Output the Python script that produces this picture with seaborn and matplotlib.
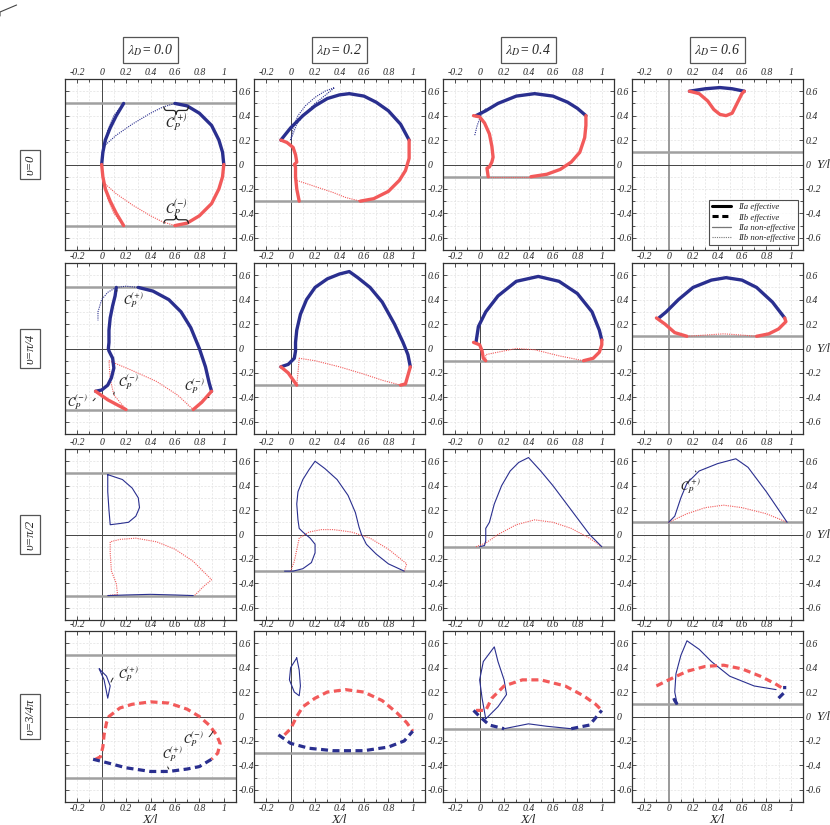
import numpy as np
import pandas as pd
import matplotlib
matplotlib.use("Agg")
import matplotlib.pyplot as plt
import seaborn as sns
from matplotlib.lines import Line2D
from matplotlib.path import Path
from matplotlib.patches import PathPatch
from matplotlib.ticker import MultipleLocator, FuncFormatter

"""
Effective / non-effective regions of C_P for four lambda_D and four upsilon values
"""

# ---------------------------------------------------------------- data
lambdas = ["0.0", "0.2", "0.4", "0.6"]
upsilons = ["0", "\u03c0/4", "\u03c0/2", "3/4\u03c0"]
gray_levels = [[0.5, -0.5], [-0.3], [-0.1], [0.1]]

# row 1 : upsilon = 0
r1c1_blue_eff = [[(0, 0), (0.01, 0.1), (0.03, 0.2), (0.07, 0.3), (0.12, 0.4), (0.18, 0.5)],
                 [(0.6, 0.5), (0.7, 0.48), (0.8, 0.42), (0.9, 0.32), (0.96, 0.2), (0.99, 0.1), (1.0, 0.0)]]
r1c1_blue_dot = [[(0.18, 0.5), (0.1, 0.4), (0.05, 0.28), (0.03, 0.16), (0.12, 0.24), (0.25, 0.33),
                  (0.4, 0.42), (0.5, 0.47), (0.6, 0.5)]]
r1c1_red_eff = [[(0, 0), (0.01, -0.1), (0.03, -0.2), (0.07, -0.3), (0.12, -0.4), (0.18, -0.5)],
                [(0.6, -0.5), (0.7, -0.48), (0.8, -0.42), (0.9, -0.32), (0.96, -0.2), (0.99, -0.1), (1.0, 0.0)]]
r1c1_red_dot = [[(0.18, -0.5), (0.1, -0.4), (0.05, -0.28), (0.03, -0.16), (0.12, -0.24), (0.25, -0.33),
                 (0.4, -0.42), (0.5, -0.47), (0.6, -0.5)]]

r1c2_blue_eff = [[(-0.08, 0.2), (0.0, 0.3), (0.1, 0.4), (0.2, 0.48), (0.3, 0.54), (0.4, 0.57), (0.48, 0.58),
                  (0.6, 0.56), (0.7, 0.51), (0.8, 0.44), (0.9, 0.33), (0.97, 0.2)]]
r1c2_blue_dot = [[(0.0, 0.2), (0.02, 0.3), (0.06, 0.4), (0.12, 0.48), (0.2, 0.55), (0.28, 0.6), (0.36, 0.63),
                  (0.3, 0.58), (0.2, 0.5), (0.12, 0.42), (0.05, 0.33), (0.0, 0.2)]]
r1c2_red_eff = [[(-0.08, 0.2), (-0.03, 0.18), (0.02, 0.14), (0.04, 0.08), (0.05, 0.02), (0.03, 0.0),
                 (0.04, -0.02), (0.04, -0.1), (0.05, -0.2), (0.07, -0.3)],
                [(0.57, -0.3), (0.68, -0.28), (0.8, -0.22), (0.89, -0.13), (0.94, -0.05), (0.97, 0.05), (0.97, 0.2)]]
r1c2_red_dot = [[(0.05, -0.13), (0.2, -0.18), (0.35, -0.23), (0.45, -0.27), (0.57, -0.3)]]

r1c3_blue_eff = [[(-0.03, 0.4), (0.05, 0.44), (0.15, 0.5), (0.3, 0.56), (0.45, 0.58), (0.6, 0.56),
                  (0.72, 0.51), (0.8, 0.46), (0.87, 0.4)]]
r1c3_blue_dot = [[(-0.04, 0.24), (-0.02, 0.32), (0.01, 0.4), (0.05, 0.46)]]
r1c3_red_eff = [[(-0.05, 0.4), (0.0, 0.39), (0.04, 0.34), (0.08, 0.25), (0.1, 0.15), (0.11, 0.06),
                 (0.1, 0.02), (0.08, -0.02), (0.06, -0.03), (0.07, -0.1)],
                [(0.42, -0.1), (0.55, -0.08), (0.66, -0.04), (0.75, 0.02), (0.82, 0.1), (0.86, 0.22),
                 (0.87, 0.32), (0.87, 0.4)]]
r1c3_red_dot = [[(0.07, -0.1), (0.42, -0.1)]]

r1c4_blue_eff = [[(0.17, 0.6), (0.3, 0.62), (0.42, 0.63), (0.52, 0.62), (0.62, 0.6)]]
r1c4_red_eff = [[(0.17, 0.6), (0.25, 0.58), (0.32, 0.52), (0.37, 0.45), (0.42, 0.41), (0.47, 0.4),
                 (0.52, 0.42), (0.56, 0.5), (0.6, 0.58), (0.62, 0.6)]]

# row 2 : upsilon = pi/4
r2c1_blue_eff = [[(-0.05, -0.35), (0.0, -0.34), (0.05, -0.3), (0.08, -0.24), (0.1, -0.16), (0.09, -0.08),
                  (0.06, -0.02), (0.055, 0.0), (0.06, 0.05), (0.06, 0.15), (0.07, 0.25), (0.09, 0.35),
                  (0.11, 0.43), (0.12, 0.5)],
                 [(0.3, 0.5), (0.42, 0.47), (0.55, 0.4), (0.65, 0.3), (0.73, 0.17), (0.8, 0.0),
                  (0.85, -0.15), (0.88, -0.28), (0.9, -0.35)]]
r2c1_blue_dot = [[(0.12, 0.5), (0.05, 0.46), (0.0, 0.4), (-0.03, 0.3), (-0.03, 0.23)],
                 [(0.12, 0.5), (0.2, 0.51), (0.3, 0.5)]]
r2c1_red_eff = [[(-0.05, -0.35), (0.05, -0.42), (0.2, -0.5)],
                [(0.75, -0.5), (0.82, -0.44), (0.9, -0.35)]]
r2c1_red_dot = [[(0.2, -0.5), (0.1, -0.38), (0.07, -0.25), (0.06, -0.1)],
                [(0.06, -0.1), (0.25, -0.18), (0.45, -0.27), (0.62, -0.38), (0.75, -0.5)]]

r2c2_blue_eff = [[(-0.08, -0.15), (-0.02, -0.13), (0.03, -0.08), (0.04, -0.02), (0.04, 0.05), (0.05, 0.15),
                  (0.08, 0.28), (0.13, 0.4), (0.2, 0.5), (0.3, 0.57), (0.4, 0.61), (0.48, 0.63), (0.55, 0.58),
                  (0.65, 0.5), (0.75, 0.38), (0.85, 0.2), (0.92, 0.05), (0.96, -0.05), (0.98, -0.15)]]
r2c2_red_eff = [[(-0.08, -0.15), (-0.02, -0.2), (0.05, -0.3)],
                [(0.9, -0.3), (0.94, -0.29), (0.98, -0.15)]]
r2c2_red_dot = [[(0.05, -0.3), (0.06, -0.2), (0.07, -0.08), (0.2, -0.1), (0.4, -0.15), (0.6, -0.21),
                 (0.75, -0.26), (0.9, -0.3)]]

r2c3_blue_eff = [[(-0.03, 0.05), (-0.01, 0.18), (0.05, 0.3), (0.15, 0.43), (0.3, 0.55), (0.48, 0.59),
                  (0.65, 0.55), (0.8, 0.45), (0.92, 0.3), (0.98, 0.15), (1.0, 0.07)]]
r2c3_red_eff = [[(-0.05, 0.05), (0.0, 0.03), (0.02, -0.02), (0.03, -0.08), (0.05, -0.1)],
                [(0.85, -0.1), (0.93, -0.08), (0.98, -0.03), (1.0, 0.03), (1.0, 0.07)]]
r2c3_red_dot = [[(0.05, -0.1), (0.05, -0.05), (0.15, -0.03), (0.3, 0.0), (0.45, -0.01), (0.65, -0.06),
                 (0.85, -0.1)]]

r2c4_blue_eff = [[(-0.08, 0.25), (-0.02, 0.3), (0.08, 0.4), (0.2, 0.5), (0.35, 0.56), (0.47, 0.58),
                  (0.6, 0.56), (0.72, 0.5), (0.85, 0.38), (0.95, 0.25)]]
r2c4_red_eff = [[(-0.1, 0.25), (-0.03, 0.2), (0.05, 0.13), (0.15, 0.1)],
                [(0.72, 0.1), (0.82, 0.12), (0.9, 0.16), (0.96, 0.22), (0.95, 0.25)]]
r2c4_red_dot = [[(0.15, 0.1), (0.3, 0.11), (0.45, 0.12), (0.6, 0.11), (0.72, 0.1)]]

# row 3 : upsilon = pi/2
r3c1_blue_thin = [[(0.05, 0.49), (0.05, 0.35), (0.06, 0.2), (0.07, 0.08), (0.15, 0.09), (0.22, 0.1),
                   (0.28, 0.15), (0.31, 0.22), (0.3, 0.3), (0.25, 0.38), (0.17, 0.45), (0.05, 0.49)],
                  [(0.05, -0.5), (0.2, -0.495), (0.4, -0.49), (0.6, -0.495), (0.75, -0.5)]]
r3c1_red_dot = [[(0.05, -0.5), (0.13, -0.49), (0.12, -0.4), (0.08, -0.3), (0.07, -0.15), (0.07, -0.06),
                 (0.15, -0.04), (0.28, -0.03), (0.45, -0.06), (0.6, -0.12), (0.75, -0.22), (0.9, -0.37),
                 (0.83, -0.43), (0.76, -0.5)]]

r3c2_blue_thin = [[(-0.05, -0.3), (0.02, -0.3), (0.1, -0.28), (0.17, -0.23), (0.2, -0.15), (0.2, -0.08),
                   (0.16, -0.03), (0.1, 0.02), (0.07, 0.05), (0.06, 0.12), (0.05, 0.25), (0.06, 0.35),
                   (0.1, 0.45), (0.15, 0.53), (0.2, 0.6), (0.28, 0.54), (0.38, 0.45), (0.47, 0.32),
                   (0.53, 0.18), (0.56, 0.06), (0.58, 0.0), (0.62, -0.08), (0.7, -0.16), (0.8, -0.24),
                   (0.93, -0.3)]]
r3c2_red_dot = [[(0.0, -0.3), (0.03, -0.22), (0.07, -0.03), (0.15, 0.02), (0.25, 0.04), (0.35, 0.04),
                 (0.5, 0.02), (0.65, -0.03), (0.8, -0.12), (0.9, -0.2), (0.95, -0.24), (0.93, -0.3)]]

r3c3_blue_thin = [[(0.0, -0.1), (0.04, -0.09), (0.05, -0.05), (0.05, 0.05), (0.08, 0.1), (0.12, 0.25),
                   (0.18, 0.4), (0.25, 0.52), (0.32, 0.59), (0.4, 0.63), (0.5, 0.52), (0.6, 0.4),
                   (0.75, 0.2), (0.9, 0.0), (1.0, -0.1)]]
r3c3_red_dot = [[(-0.03, -0.1), (0.05, -0.07), (0.15, 0.0), (0.3, 0.08), (0.45, 0.12), (0.6, 0.1),
                 (0.75, 0.05), (0.9, -0.03), (1.0, -0.1)]]

r3c4_blue_thin = [[(0.0, 0.1), (0.05, 0.15), (0.1, 0.3), (0.15, 0.42), (0.25, 0.52), (0.4, 0.58),
                   (0.55, 0.62), (0.65, 0.55), (0.8, 0.35), (0.97, 0.1)]]
r3c4_red_dot = [[(0.0, 0.1), (0.15, 0.17), (0.3, 0.22), (0.45, 0.24), (0.6, 0.22), (0.8, 0.17), (0.97, 0.1)]]

# row 4 : upsilon = 3/4 pi
r4c1_blue_thin = [[(-0.02, 0.39), (0.02, 0.3), (0.05, 0.15), (0.07, 0.25), (0.04, 0.33), (-0.02, 0.39)]]
r4c1_red_dash = [[(-0.05, -0.35), (-0.01, -0.33), (0.01, -0.25), (0.02, -0.15), (0.04, -0.05), (0.06, 0.0),
                  (0.15, 0.07), (0.25, 0.1), (0.4, 0.12), (0.55, 0.11), (0.7, 0.06), (0.8, 0.0),
                  (0.88, -0.07), (0.94, -0.15), (0.97, -0.22), (0.95, -0.3), (0.9, -0.35)]]
r4c1_blue_dash = [[(-0.07, -0.35), (0.05, -0.38), (0.2, -0.42), (0.4, -0.45), (0.55, -0.45), (0.7, -0.43),
                   (0.8, -0.41), (0.9, -0.35)]]

r4c2_blue_thin = [[(0.05, 0.48), (0.0, 0.4), (-0.01, 0.3), (0.03, 0.2), (0.07, 0.17), (0.08, 0.25),
                   (0.07, 0.38), (0.05, 0.48)]]
r4c2_red_dash = [[(-0.05, -0.15), (0.0, -0.1), (0.05, 0.0), (0.1, 0.08), (0.2, 0.15), (0.3, 0.2),
                  (0.45, 0.22), (0.6, 0.2), (0.75, 0.13), (0.87, 0.03), (0.95, -0.05), (1.0, -0.12)]]
r4c2_blue_dash = [[(-0.1, -0.15), (0.0, -0.22), (0.15, -0.26), (0.35, -0.28), (0.6, -0.28), (0.8, -0.25),
                   (0.93, -0.2), (1.0, -0.12)]]

r4c3_blue_thin = [[(0.05, -0.02), (0.02, 0.15), (0.0, 0.3), (0.03, 0.45), (0.12, 0.57), (0.15, 0.45),
                   (0.2, 0.3), (0.22, 0.18), (0.15, 0.08), (0.05, -0.02)],
                  [(0.2, -0.1), (0.4, -0.06), (0.55, -0.08), (0.75, -0.1)]]
r4c3_red_dash = [[(-0.03, 0.05), (0.05, 0.05), (0.1, 0.15), (0.2, 0.25), (0.35, 0.3), (0.5, 0.3),
                  (0.7, 0.25), (0.85, 0.17), (0.95, 0.1), (1.0, 0.05)]]
r4c3_blue_dash = [[(-0.05, 0.05), (0.0, 0.0), (0.08, -0.07), (0.2, -0.1)],
                  [(0.75, -0.1), (0.9, -0.07), (1.0, 0.05)]]

r4c4_blue_thin = [[(0.07, 0.1), (0.05, 0.2), (0.06, 0.35), (0.1, 0.5), (0.15, 0.62), (0.25, 0.55),
                   (0.35, 0.45), (0.5, 0.33), (0.7, 0.25), (0.88, 0.22)]]
r4c4_red_dash = [[(-0.1, 0.25), (0.0, 0.3), (0.15, 0.37), (0.3, 0.41), (0.45, 0.42), (0.6, 0.39),
                  (0.75, 0.33), (0.87, 0.27), (0.95, 0.22)]]
r4c4_blue_dash = [[(0.07, 0.1), (0.05, 0.13), (0.03, 0.18)],
                  [(0.9, 0.15), (0.95, 0.2), (0.95, 0.25)]]

BLUE = "#2a2f8f"
RED = "#f25a5a"

# style name -> (linewidth, linestyle)
styles = {"eff": (2.4, "-"), "dash": (2.3, (0, (2.2, 1.4))), "thin": (0.8, "-"), "dot": (0.8, (0, (1, 1)))}

panels = {
    (0, 0): [(r1c1_blue_eff, BLUE, "eff"), (r1c1_blue_dot, BLUE, "dot"), (r1c1_red_eff, RED, "eff"), (r1c1_red_dot, RED, "dot")],
    (0, 1): [(r1c2_blue_eff, BLUE, "eff"), (r1c2_blue_dot, BLUE, "dot"), (r1c2_red_eff, RED, "eff"), (r1c2_red_dot, RED, "dot")],
    (0, 2): [(r1c3_blue_eff, BLUE, "eff"), (r1c3_blue_dot, BLUE, "dot"), (r1c3_red_eff, RED, "eff"), (r1c3_red_dot, RED, "dot")],
    (0, 3): [(r1c4_blue_eff, BLUE, "eff"), (r1c4_red_eff, RED, "eff")],
    (1, 0): [(r2c1_blue_dot, BLUE, "dot"), (r2c1_red_dot, RED, "dot"), (r2c1_blue_eff, BLUE, "eff"), (r2c1_red_eff, RED, "eff")],
    (1, 1): [(r2c2_red_dot, RED, "dot"), (r2c2_blue_eff, BLUE, "eff"), (r2c2_red_eff, RED, "eff")],
    (1, 2): [(r2c3_red_dot, RED, "dot"), (r2c3_blue_eff, BLUE, "eff"), (r2c3_red_eff, RED, "eff")],
    (1, 3): [(r2c4_red_dot, RED, "dot"), (r2c4_blue_eff, BLUE, "eff"), (r2c4_red_eff, RED, "eff")],
    (2, 0): [(r3c1_red_dot, RED, "dot"), (r3c1_blue_thin, BLUE, "thin")],
    (2, 1): [(r3c2_red_dot, RED, "dot"), (r3c2_blue_thin, BLUE, "thin")],
    (2, 2): [(r3c3_red_dot, RED, "dot"), (r3c3_blue_thin, BLUE, "thin")],
    (2, 3): [(r3c4_red_dot, RED, "dot"), (r3c4_blue_thin, BLUE, "thin")],
    (3, 0): [(r4c1_blue_thin, BLUE, "thin"), (r4c1_red_dash, RED, "dash"), (r4c1_blue_dash, BLUE, "dash")],
    (3, 1): [(r4c2_blue_thin, BLUE, "thin"), (r4c2_red_dash, RED, "dash"), (r4c2_blue_dash, BLUE, "dash")],
    (3, 2): [(r4c3_blue_thin, BLUE, "thin"), (r4c3_red_dash, RED, "dash"), (r4c3_blue_dash, BLUE, "dash")],
    (3, 3): [(r4c4_blue_thin, BLUE, "thin"), (r4c4_red_dash, RED, "dash"), (r4c4_blue_dash, BLUE, "dash")],
}

CP = {"+": r"$\mathcal{C}_P^{(+)}$", "-": r"$\mathcal{C}_P^{(-)}$"}


def brace(ax, x0, x1, y_end, y_tip):
    """Draw a horizontal curly brace from x0 to x1, ends at y_end, tip at y_tip."""
    xm = (x0 + x1) / 2
    ym = (y_end + y_tip) / 2
    q = (x1 - x0) * 0.12
    verts = [(x0, y_end), (x0, ym), (x0 + q, ym),
             (xm - q, ym),
             (xm, ym), (xm, y_tip),
             (xm, ym), (xm + q, ym),
             (x1 - q, ym),
             (x1, ym), (x1, y_end)]
    codes = [Path.MOVETO, Path.CURVE3, Path.CURVE3,
             Path.LINETO,
             Path.CURVE3, Path.CURVE3,
             Path.CURVE3, Path.CURVE3,
             Path.LINETO,
             Path.CURVE3, Path.CURVE3]
    ax.add_patch(PathPatch(Path(verts, codes), fc="none", ec="#222222", lw=0.9, zorder=4))


# ---------------------------------------------------------------- figure
sns.set_style("ticks")
plt.rcParams["font.family"] = ["Liberation Serif", "DejaVu Serif"]
plt.rcParams["font.style"] = "italic"
plt.rcParams["mathtext.fontset"] = "stix"
plt.rcParams["axes.unicode_minus"] = False

W, H = 830, 825
fig = plt.figure(figsize=(W / 100, H / 100), dpi=100)

left_px = [65, 254, 443, 632]
top_px = [79, 263, 449, 631]
size_px = 171

fmt = FuncFormatter(lambda v, p: "%g" % round(v, 2))

axes = {}
for r in range(4):
    for c in range(4):
        ax = fig.add_axes([left_px[c] / W, 1 - (top_px[r] + size_px) / H, size_px / W, size_px / H])
        axes[(r, c)] = ax

        # reference axes and threshold lines
        if c == 3:
            ax.axvline(0, color="#9a9a9a", lw=1.4, zorder=1)
        else:
            ax.axvline(0, color="#444444", lw=0.7, zorder=1)
        ax.axhline(0, color="#444444", lw=0.7, zorder=1)
        for g in gray_levels[c]:
            ax.axhline(g, color="#a0a0a0", lw=1.8, zorder=1)

        for segs, col, st in panels[(r, c)]:
            lw, ls = styles[st]
            for seg in segs:
                df = pd.DataFrame(seg, columns=["X", "Y"])
                sns.lineplot(data=df, x="X", y="Y", sort=False, estimator=None, ax=ax,
                             color=col, lw=lw, linestyle=ls, zorder=3)
        ax.set_xlabel("")
        ax.set_ylabel("")

        ax.set_xlim(-0.3, 1.1)
        ax.set_ylim(-0.7, 0.7)
        ax.set_xticks(np.arange(-0.2, 1.01, 0.2))
        ax.set_yticks(np.arange(-0.6, 0.61, 0.2))
        ax.xaxis.set_minor_locator(MultipleLocator(0.1))
        ax.yaxis.set_minor_locator(MultipleLocator(0.1))
        ax.xaxis.set_major_formatter(fmt)
        ax.yaxis.set_major_formatter(fmt)
        ax.tick_params(which="both", direction="in", top=True, right=True, bottom=True, left=True,
                       labeltop=True, labelbottom=(r == 3), labelleft=False, labelright=True,
                       labelsize=7, length=3, width=0.6, pad=2, color="#333333")
        ax.tick_params(axis="x", which="major", pad=1.5)
        ax.tick_params(which="minor", length=2)
        for lab in ax.get_xticklabels() + ax.get_yticklabels():
            lab.set_fontstyle("italic")
        ax.grid(which="both", color="#e2e2e2", ls=(0, (3, 2)), lw=0.5)
        for sp in ax.spines.values():
            sp.set_color("#333333")
            sp.set_linewidth(0.9)

    # row labels
    fig.text(30 / W, 1 - (top_px[r] + size_px / 2) / H, "\u03c5=" + upsilons[r], rotation=90,
             ha="center", va="center", fontsize=9,
             bbox=dict(boxstyle="square,pad=0.35", fc="white", ec="#555555", lw=0.9))

# column titles and X/l labels
for c in range(4):
    xc = (left_px[c] + size_px / 2) / W
    fig.text(xc, 1 - 50 / H, r"$\lambda_D$= " + lambdas[c],
             ha="center", va="center", fontsize=10,
             bbox=dict(boxstyle="square,pad=0.35", fc="white", ec="#555555", lw=0.9))
    fig.text(xc, 1 - 820 / H, "X/l", ha="center", va="center", fontsize=9.5)

# Y/l labels on the right column
for r in range(4):
    axes[(r, 3)].text(1.08, 0.0, "Y/l", transform=axes[(r, 3)].get_yaxis_transform(),
                      fontsize=9, ha="left", va="center")

# annotations
a = axes[(0, 0)]
brace(a, 0.51, 0.71, 0.475, 0.41)
a.text(0.61, 0.34, CP["+"], fontsize=10, ha="center", va="center")
brace(a, 0.51, 0.71, -0.485, -0.42)
a.text(0.61, -0.36, CP["-"], fontsize=10, ha="center", va="center")

line_kw = dict(arrowstyle="-", lw=0.7, color="#222222", connectionstyle="arc3,rad=0.5")
a = axes[(1, 0)]
a.annotate(CP["+"], xy=(0.12, 0.47), xytext=(0.26, 0.4), fontsize=9, ha="center", va="center",
           arrowprops=line_kw)
a.annotate(CP["-"], xy=(0.1, -0.4), xytext=(0.22, -0.27), fontsize=9, ha="center", va="center",
           arrowprops=line_kw)
a.annotate(CP["-"], xy=(0.88, -0.4), xytext=(0.76, -0.3), fontsize=9, ha="center", va="center",
           arrowprops=line_kw)
a.annotate(CP["-"], xy=(-0.04, -0.39), xytext=(-0.2, -0.43), fontsize=9, ha="center", va="center",
           arrowprops=line_kw)

a = axes[(2, 3)]
a.annotate(CP["+"], xy=(0.22, 0.52), xytext=(0.18, 0.4), fontsize=9, ha="center", va="center",
           arrowprops=line_kw)

a = axes[(3, 0)]
a.annotate(CP["+"], xy=(0.07, 0.26), xytext=(0.22, 0.35), fontsize=9, ha="center", va="center",
           arrowprops=line_kw)
a.annotate(CP["-"], xy=(0.92, -0.1), xytext=(0.75, -0.18), fontsize=9, ha="center", va="center",
           arrowprops=line_kw)
a.annotate(CP["+"], xy=(0.55, -0.43), xytext=(0.58, -0.3), fontsize=9, ha="center", va="center",
           arrowprops=line_kw)

# legend
handles = [Line2D([], [], color="black", lw=2.2, ls="-"),
           Line2D([], [], color="black", lw=2.2, ls=(0, (2, 1.2))),
           Line2D([], [], color="#777777", lw=0.9, ls="-"),
           Line2D([], [], color="#777777", lw=0.8, ls=(0, (1, 1)))]
labels = ["IIa effective", "IIb effective", "IIa non-effective", "IIb non-effective"]
leg = axes[(0, 3)].legend(handles, labels, loc="lower right", frameon=True, fancybox=False,
                          handlelength=2.2, borderpad=0.3, labelspacing=0.25, borderaxespad=0.6,
                          prop={"style": "italic", "size": 6.3})
leg.get_frame().set_edgecolor("#222222")
leg.get_frame().set_linewidth(0.8)

# stray mark in the top-left corner
fig.add_artist(Line2D([0.0, 0.0, 0.02], [1 - 16 / H, 1 - 12 / H, 1 - 5 / H], color="#444444", lw=0.8))

fig.savefig("out.png", dpi=100)
